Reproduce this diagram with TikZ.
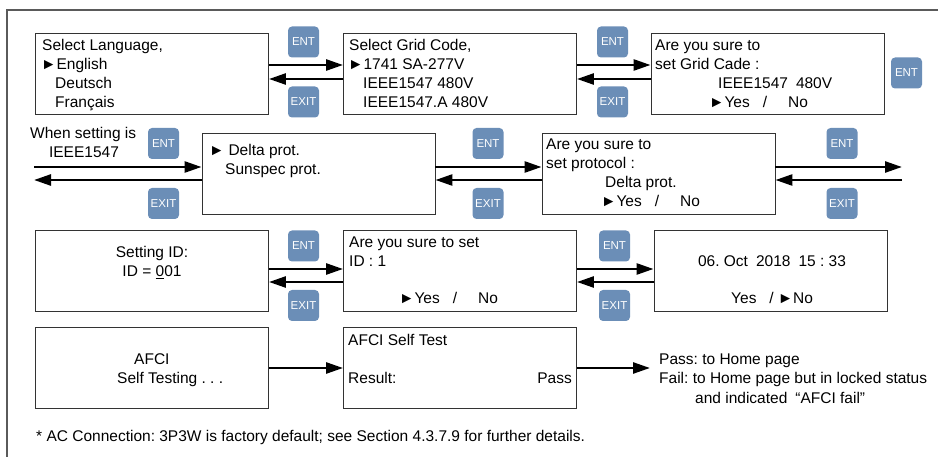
\documentclass[tikz,border=0pt]{standalone}
\usepackage{fontspec}
\setmainfont{Liberation Sans}
\usetikzlibrary{positioning,arrows.meta}
\frenchspacing

\definecolor{keyblue}{RGB}{107,142,183}
\definecolor{framegray}{RGB}{90,90,90}

\tikzset{
  screen/.style={draw=black!80, line width=0.9pt, minimum width=233pt, minimum height=81pt, inner sep=0pt},
  key/.style={fill=keyblue, rounded corners=4pt, minimum size=31pt, inner sep=0pt, text=white, font=\fontsize{11.5}{12}\selectfont},
  txt/.style={anchor=base west, inner sep=0pt, font=\fontsize{15.5}{19}\selectfont},
  flow/.style={line width=2.6pt, -{Triangle[length=17pt,width=11pt]}}
}

\begin{document}
\begin{tikzpicture}[x=1pt,y=-1pt]
\useasboundingbox (0,0) rectangle (938,457);

\draw[framegray, line width=1.6pt] (7,457) -- (7,10) -- (938,10);

% screens
\node[screen] (lang) at (152,73.5) {};
\node[screen] (grid) at (460,73.5) {};
\node[screen] (gridok) at (767.5,73.5) {};
\node[screen] (prot) at (318.5,173.5) {};
\node[screen] (protok) at (658.5,173.5) {};
\node[screen] (id) at (152,271) {};
\node[screen] (idok) at (460,271) {};
\node[screen] (clock) at (770.5,271) {};
\node[screen] (afci) at (152,368) {};
\node[screen] (afcires) at (460,368) {};

% keys
\node[key] (ent1) at (303.5,42) {ENT};
\node[key] (exit1) at (303.5,102) {EXIT};
\node[key] (ent2) at (612.5,42) {ENT};
\node[key] (exit2) at (612.5,102) {EXIT};
\node[key] (ent3) at (906.5,73) {ENT};
\node[key] (ent4) at (163.5,143.5) {ENT};
\node[key] (exit4) at (163.5,203.5) {EXIT};
\node[key] (ent5) at (488,143.5) {ENT};
\node[key] (exit5) at (488,203.5) {EXIT};
\node[key] (ent6) at (842,143.5) {ENT};
\node[key] (exit6) at (842,203.5) {EXIT};
\node[key] (ent7) at (303.5,246) {ENT};
\node[key] (exit7) at (303.5,305.5) {EXIT};
\node[key] (ent8) at (614.5,246) {ENT};
\node[key] (exit8) at (614.5,305.5) {EXIT};

% screen texts
\node[txt] (lang1) at (42,51) {Select Language,};
\node[txt] (lang2) at (41,70) {►English};
\node[txt] (lang3) at (55,89) {Deutsch};
\node[txt] (lang4) at (55,108) {Français};

\node[txt] (grid1) at (349,51) {Select Grid Code,};
\node[txt] (grid2) at (348,70) {►1741 SA-277V};
\node[txt] (grid3) at (363,89) {IEEE1547 480V};
\node[txt] (grid4) at (363,108) {IEEE1547.A 480V};

\node[txt] (gridok1) at (655,51) {Are you sure to};
\node[txt] (gridok2) at (655,70) {set Grid Cade :};
\node[txt] (gridok3) at (718,89) {IEEE1547\hspace{8pt}480V};
\node[txt] (gridok4) at (709,108) {►Yes\hspace{13pt}/\hspace{21pt}No};

\node[txt] (when1) at (30,139) {When setting is};
\node[txt, anchor=base] (when2) at (84,158) {IEEE1547};

\node[txt] (prot1) at (209,156) {►\hspace{4pt}Delta prot.};
\node[txt] (prot2) at (225,175) {Sunspec prot.};

\node[txt] (protok1) at (546,150) {Are you sure to};
\node[txt] (protok2) at (546,169) {set protocol :};
\node[txt] (protok3) at (605,188) {Delta prot.};
\node[txt] (protok4) at (601,207) {►Yes\hspace{13pt}/\hspace{21pt}No};

\node[txt, anchor=base] (id1) at (152,258) {Setting ID:};
\node[txt, anchor=base] (id2) at (152,277) {ID = \underline{0}01};

\node[txt] (idok1) at (349,248) {Are you sure to set};
\node[txt] (idok2) at (349,267) {ID : 1};
\node[txt] (idok3) at (399,304) {►Yes\hspace{13pt}/\hspace{21pt}No};

\node[txt, anchor=base] (clock1) at (772,267) {06. Oct\hspace{8pt}2018\hspace{8pt}15 : 33};
\node[txt] (clock2) at (731,304) {Yes\hspace{13pt}/\hspace{4pt}►No};

\node[txt] (afci1) at (134,364) {AFCI};
\node[txt] (afci2) at (117,383) {Self Testing . . .};

\node[txt] (afcires1) at (348,345) {AFCI Self Test};
\node[txt] (afcires2) at (348,383) {Result:};
\node[txt, anchor=base east] (afcires3) at (572,383) {Pass};

\node[txt] (home1) at (659,364) {Pass: to Home page};
\node[txt] (home2) at (659,384) {Fail: to Home page but in locked status};
\node[txt] (home3) at (695,403) {and indicated\hspace{8pt}“AFCI fail”};

\node[txt] (note) at (36,441) {* AC Connection: 3P3W is factory default; see Section 4.3.7.9 for further details.};

% connectors
\coordinate (inR) at (34,167);
\coordinate (inL) at (34,180);
\coordinate (outR) at (902,167);
\coordinate (outL) at (902,180);
\coordinate (home) at (650,368);

\draw[flow] ([yshift=8.5pt]lang.east) -- ([yshift=8.5pt]grid.west);
\draw[flow] ([yshift=-5.5pt]grid.west) -- ([yshift=-5.5pt]lang.east);
\draw[flow] ([yshift=8.5pt]grid.east) -- ([yshift=8.5pt]gridok.west);
\draw[flow] ([yshift=-5.5pt]gridok.west) -- ([yshift=-5.5pt]grid.east);

\draw[flow] (inR) -- (inR -| prot.west);
\draw[flow] (inL -| prot.west) -- (inL);
\draw[flow] ([yshift=6.5pt]prot.east) -- ([yshift=6.5pt]protok.west);
\draw[flow] ([yshift=-6.5pt]protok.west) -- ([yshift=-6.5pt]prot.east);
\draw[flow] (outR -| protok.east) -- (outR);
\draw[flow] (outL) -- (outL -| protok.east);

\draw[flow] ([yshift=2pt]id.east) -- ([yshift=2pt]idok.west);
\draw[flow] ([yshift=-11pt]idok.west) -- ([yshift=-11pt]id.east);
\draw[flow] ([yshift=2pt]idok.east) -- ([yshift=2pt]clock.west);
\draw[flow] ([yshift=-11pt]clock.west) -- ([yshift=-11pt]idok.east);

\draw[flow] (afci) -- (afcires);
\draw[flow] (afcires) -- (home);

\end{tikzpicture}
\end{document}
